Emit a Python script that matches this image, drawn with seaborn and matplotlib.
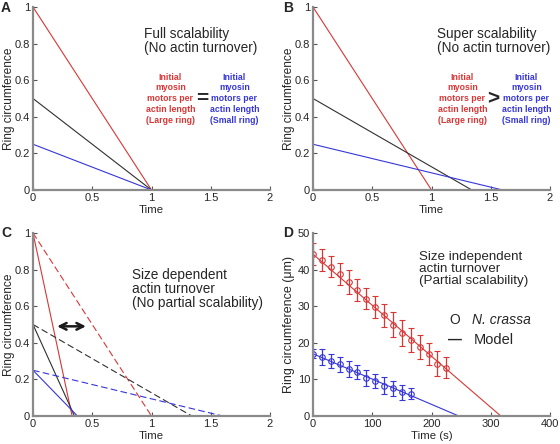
import numpy as np
import pandas as pd
import seaborn as sns
import matplotlib.pyplot as plt
from matplotlib.ticker import FuncFormatter

# model lines: every ring starts at circ_start and reaches 0 at the given end time
circ_start = [1.0, 0.5, 0.25]
end_full = [1.0, 1.0, 1.0]
end_super = [1.0, 1.34, 1.6]
end_dep_solid = [0.33, 0.35, 0.375]
end_dep_dashed = [1.0, 1.34, 1.6]

# panel D - N. crassa measurements
t_large = [0, 15, 30, 45, 60, 75, 90, 105, 120, 135, 150, 165, 180, 195, 210, 225]
c_large = [44.2, 42.5, 40.8, 38.8, 36.6, 34.4, 32.1, 29.8, 27.5, 25.0, 22.6, 20.8, 18.9, 17.0, 14.3, 13.2]
e_large = [3.0, 3.0, 2.8, 2.9, 3.2, 2.9, 3.0, 3.0, 3.2, 3.3, 3.5, 3.3, 3.2, 3.0, 3.4, 2.8]
t_small = [0, 15, 30, 45, 60, 75, 90, 105, 120, 135, 150, 165]
c_small = [17.0, 16.0, 15.0, 14.1, 12.8, 11.9, 10.5, 9.6, 8.3, 7.6, 6.5, 6.1]
e_small = [1.2, 2.2, 1.9, 2.1, 2.2, 1.9, 2.2, 2.0, 2.3, 2.0, 2.0, 1.5]
model_large = ([0, 317], [44.2, 0])
model_small = ([0, 246], [17.0, 0])

RED = "#d93636"
BLUE = "#3636d9"
BLACK = "#303030"
line_cols = [RED, BLACK, BLUE]

sns.set_theme(style="ticks")
plt.rcParams["font.family"] = ["Liberation Sans", "DejaVu Sans"]

fig = plt.figure(figsize=(5.6, 4.44), dpi=100)
W, H = 560.0, 444.0
axA = fig.add_axes([33 / W, 1 - 190 / H, 237 / W, 183 / H])
axB = fig.add_axes([313 / W, 1 - 190 / H, 237 / W, 183 / H])
axC = fig.add_axes([33 / W, 1 - 416 / H, 237 / W, 183 / H])
axD = fig.add_axes([313 / W, 1 - 416 / H, 237 / W, 183 / H])

fmt = FuncFormatter(lambda v, p: "%g" % v)


def style(ax, ylab, ysize=8.6):
    for s in ["top", "right"]:
        ax.spines[s].set_visible(False)
    for s in ["left", "bottom"]:
        ax.spines[s].set_color("#8a8a8a")
        ax.spines[s].set_linewidth(1.6)
    ax.tick_params(direction="in", length=3, width=0.8, color="#555555",
                   labelsize=8, pad=2)
    ax.xaxis.set_major_formatter(fmt)
    ax.yaxis.set_major_formatter(fmt)
    ax.set_ylabel(ylab, fontsize=ysize)
    ax.yaxis.set_label_coords(-0.075, 0.5)
    ax.xaxis.set_label_coords(0.5, -0.08)


def lines(ax, ends, ls="-", lw=0.8):
    for c0, t1, col in zip(circ_start, ends, line_cols):
        sns.lineplot(x=[0, t1], y=[c0, 0], color=col, lw=lw, linestyle=ls, ax=ax)


for ax in [axA, axB, axC]:
    ax.set_xlim(0, 2)
    ax.set_ylim(0, 1)
    ax.set_xticks([0, 0.5, 1, 1.5, 2])
    ax.set_yticks([0, 0.2, 0.4, 0.6, 0.8, 1])
    style(ax, "Ring circumference")
    ax.set_xlabel("Time", fontsize=8.2)

lines(axA, end_full)
lines(axB, end_super)
lines(axC, end_dep_solid)
lines(axC, end_dep_dashed, ls=(0, (6, 3)))

myo = "Initial\nmyosin\nmotors per\nactin length"
tkw = dict(fontsize=6.3, fontweight="bold", ha="center", va="center", linespacing=1.25)

axA.text(0.94, 0.89, "Full scalability\n(No actin turnover)", fontsize=9.8,
         va="top", linespacing=1.0)
axA.text(1.16, 0.5, myo + "\n(Large ring)", color=RED, **tkw)
axA.text(1.43, 0.5, "=", fontsize=15, fontweight="bold", ha="center", va="center")
axA.text(1.70, 0.5, myo + "\n(Small ring)", color=BLUE, **tkw)

axB.text(1.05, 0.89, "Super scalability\n(No actin turnover)", fontsize=9.8,
         va="top", linespacing=1.0)
axB.text(1.26, 0.5, myo + "\n(Large ring)", color=RED, **tkw)
axB.text(1.52, 0.5, ">", fontsize=15, fontweight="bold", ha="center", va="center")
axB.text(1.80, 0.5, myo + "\n(Small ring)", color=BLUE, **tkw)

axC.text(0.835, 0.81, "Size dependent\nactin turnover\n(No partial scalability)",
         fontsize=9.8, va="top", linespacing=1.0)
axC.annotate("", xy=(0.47, 0.49), xytext=(0.18, 0.49),
             arrowprops=dict(arrowstyle="<->", lw=1.8, color="k", mutation_scale=12))

# panel D
axD.set_xlim(0, 400)
axD.set_ylim(0, 50)
axD.set_xticks([0, 100, 200, 300, 400])
axD.set_yticks([0, 10, 20, 30, 40, 50])
style(axD, "Ring circumference (\u03bcm)", ysize=9.0)
axD.set_xlabel("Time (s)", fontsize=8.2)
sns.lineplot(x=model_large[0], y=model_large[1], color=RED, lw=0.8, ax=axD)
sns.lineplot(x=model_small[0], y=model_small[1], color=BLUE, lw=0.8, ax=axD)
for t, c, e, col in [(t_large, c_large, e_large, RED), (t_small, c_small, e_small, BLUE)]:
    axD.errorbar(t, c, yerr=e, fmt="o", mfc="none", mec=col, ecolor=col, ms=4,
                 mew=0.8, elinewidth=0.9, capsize=2.2, capthick=0.9)
axD.text(179, 45.2, "Size independent\nactin turnover\n(Partial scalability)",
         fontsize=9.6, va="top", linespacing=1.0)
axD.text(240, 26.2, "O", fontsize=10, ha="center", va="center")
axD.text(268, 26.2, "N. crassa", fontsize=10, style="italic", va="center")
axD.text(240, 20.8, "\u2014", fontsize=10, fontweight="bold", ha="center", va="center")
axD.text(272, 20.8, "Model", fontsize=10.5, va="center")

for lab, x, y in [("A", 0.002, 0.998), ("B", 0.505, 0.998), ("C", 0.002, 0.49), ("D", 0.505, 0.49)]:
    fig.text(x, y, lab, fontsize=10, fontweight="bold", va="top", ha="left")

fig.savefig("out.png", dpi=100)
